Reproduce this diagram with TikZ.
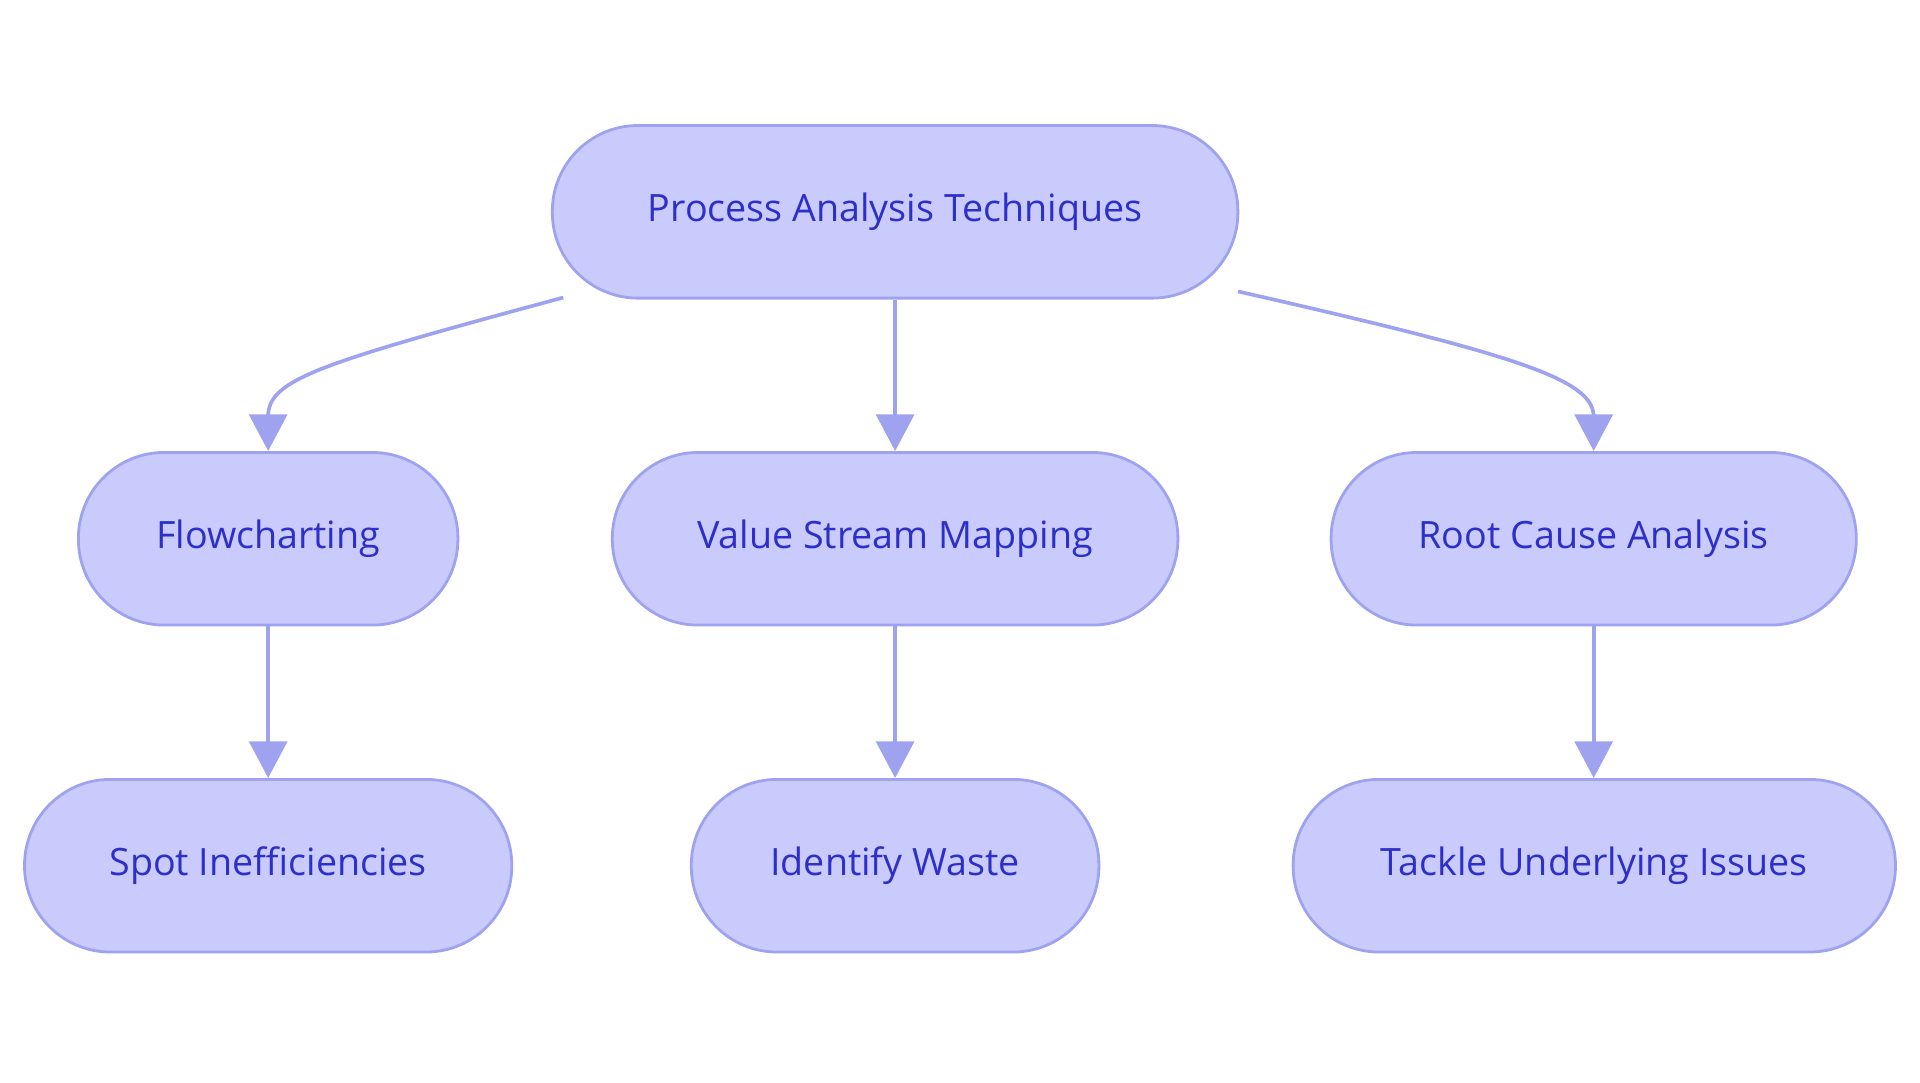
\documentclass[tikz,border=0pt]{standalone}
\usepackage{fontspec}
\setmainfont{Open Sans}
\usetikzlibrary{arrows.meta}
\definecolor{nfill}{HTML}{C9CBFD}
\definecolor{nline}{HTML}{9FA3EF}
\definecolor{ntext}{HTML}{2E2EC8}
\begin{document}
\begin{tikzpicture}[x=0.02cm,y=-0.02cm,
  box/.style={draw=nline,fill=nfill,line width=1.3pt,rounded corners=1.4cm,minimum height=2.82cm,text=ntext,font=\fontsize{17.5pt}{20pt}\selectfont,inner sep=0pt},
  arr/.style={draw=nline,line width=1.7pt,-{Triangle[length=0.6cm,width=0.62cm]}}]
\useasboundingbox (0,0) rectangle (1568,884);
\node[box,minimum width=11.2cm] (top) at (731,173) {Process Analysis Techniques};
\node[box,minimum width=6.2cm] (fc) at (219,440) {Flowcharting};
\node[box,minimum width=9.24cm] (vsm) at (731,440) {Value Stream Mapping};
\node[box,minimum width=8.58cm] (rca) at (1301.5,440) {Root Cause Analysis};
\node[box,minimum width=7.96cm] (spot) at (219,707) {Spot Inefficiencies};
\node[box,minimum width=6.66cm] (iw) at (731,707) {Identify Waste};
\node[box,minimum width=9.84cm] (tui) at (1302,707) {Tackle Underlying Issues};
\coordinate (l0) at (460,243);
\coordinate (r0) at (1011,238);
\draw[arr] (l0) .. controls (260,297) and (219,310) .. (219,340) -- (fc.north);
\draw[arr] (r0) .. controls (1240,290) and (1301,310) .. (1301.5,340) -- (rca.north);
\draw[arr] (top) -- (vsm);
\draw[arr] (fc) -- (spot);
\draw[arr] (vsm) -- (iw);
\draw[arr] (rca.south) -- (rca.south |- tui.north);
\end{tikzpicture}
\end{document}
